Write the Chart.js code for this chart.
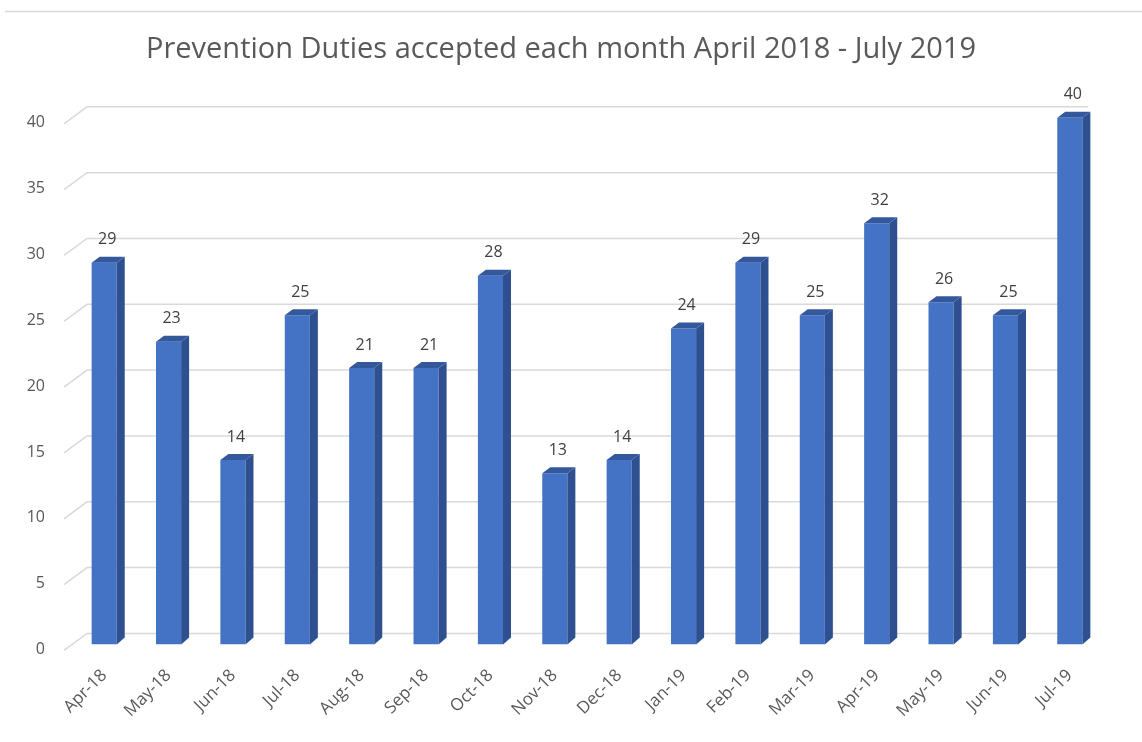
<!DOCTYPE html>
<html>
<head>
<meta charset="utf-8">
<title>Prevention Duties</title>
<script src="https://cdn.jsdelivr.net/npm/chart.js@4/dist/chart.umd.min.js"></script>
<style>
  body { margin: 0; background: #fff; }
  #wrap { width: 1142px; height: 742px; position: relative; }
</style>
</head>
<body>
<div id="wrap"><canvas id="chart" width="1142" height="742"></canvas></div>
<script>
// data
var months = ['Apr-18', 'May-18', 'Jun-18', 'Jul-18', 'Aug-18', 'Sep-18', 'Oct-18', 'Nov-18',
              'Dec-18', 'Jan-19', 'Feb-19', 'Mar-19', 'Apr-19', 'May-19', 'Jun-19', 'Jul-19'];
var accepted = [29, 23, 14, 25, 21, 21, 28, 13, 14, 24, 29, 25, 32, 26, 25, 40];
var yTicks = [0, 5, 10, 15, 20, 25, 30, 35, 40];
var chartTitle = 'Prevention Duties accepted each month April 2018 - July 2019';

var textColor = '#595959';
var gridColor = '#d9d9d9';
var fontFamily = '"Open Sans", "Noto Sans", sans-serif';
var DEPTH_X = 8, DEPTH_Y = 6;

// back wall grid lines, drawn with a little perspective like the excel 3d chart
var backGrid = {
    id: 'backGrid',
    beforeDatasetsDraw: function(chart){
        var ctx = chart.ctx, area = chart.chartArea, y = chart.scales.y;
        ctx.save();
        // frame line at top
        ctx.strokeStyle = gridColor;
        ctx.lineWidth = 1.5;
        ctx.beginPath();
        ctx.moveTo(5, 11.5);
        ctx.lineTo(chart.width, 11.5);
        ctx.stroke();
        yTicks.forEach(function(v){
            var p = y.getPixelForValue(v);
            ctx.beginPath();
            ctx.moveTo(area.left - 8, p + 6);
            ctx.lineTo(area.left + 15, p - 11);
            ctx.lineTo(area.right - 14, p - 11);
            ctx.stroke();
        });
        ctx.restore();
    }
};

// side + top faces of the bars and the value labels
var barFaces = {
    id: 'barFaces',
    afterDatasetsDraw: function(chart){
        var ctx = chart.ctx;
        var meta = chart.getDatasetMeta(0);
        ctx.save();
        meta.data.forEach(function(bar, i){
            var w = bar.width, l = bar.x - w / 2, r = bar.x + w / 2;
            var top = bar.y, base = bar.base;
            ctx.fillStyle = '#2f5090';
            ctx.beginPath();
            ctx.moveTo(r, top);
            ctx.lineTo(r + DEPTH_X, top - DEPTH_Y);
            ctx.lineTo(r + DEPTH_X, base - DEPTH_Y - 1);
            ctx.lineTo(r, base);
            ctx.closePath();
            ctx.fill();
            ctx.fillStyle = '#34589c';
            ctx.beginPath();
            ctx.moveTo(l, top);
            ctx.lineTo(l + DEPTH_X, top - DEPTH_Y);
            ctx.lineTo(r + DEPTH_X, top - DEPTH_Y);
            ctx.lineTo(r, top);
            ctx.closePath();
            ctx.fill();
            // value
            ctx.fillStyle = '#404040';
            ctx.font = '16px ' + fontFamily;
            ctx.textAlign = 'center';
            ctx.textBaseline = 'middle';
            ctx.fillText(String(accepted[i]), bar.x + 3, top - 23);
        });
        ctx.restore();
    }
};

new Chart(document.getElementById('chart'), {
    type: 'bar',
    data: {
        labels: months,
        datasets: [{
            data: accepted,
            backgroundColor: '#4472c4',
            borderWidth: 0,
            barPercentage: 0.39,
            categoryPercentage: 1
        }]
    },
    options: {
        responsive: false,
        animation: false,
        layout: { padding: { left: 20, right: 40, top: 0, bottom: 0 } },
        plugins: {
            legend: { display: false },
            tooltip: { enabled: false },
            title: {
                display: true,
                text: chartTitle,
                color: textColor,
                font: { family: fontFamily, size: 29, weight: 'normal' },
                padding: { top: 32, bottom: 51 }
            }
        },
        scales: {
            x: {
                grid: { display: false, drawTicks: false },
                border: { display: false },
                ticks: {
                    color: textColor,
                    font: { family: fontFamily, size: 17 },
                    minRotation: 45,
                    maxRotation: 45,
                    padding: 21
                }
            },
            y: {
                min: 0,
                max: 40,
                grid: { display: false, drawTicks: false },
                border: { display: false },
                afterFit: function(scale){ scale.width = 52; },
                ticks: {
                    stepSize: 5,
                    color: textColor,
                    font: { family: fontFamily, size: 16 },
                    padding: 27,
                    labelOffset: 5
                }
            }
        }
    },
    plugins: [backGrid, barFaces]
});
</script>
</body>
</html>
